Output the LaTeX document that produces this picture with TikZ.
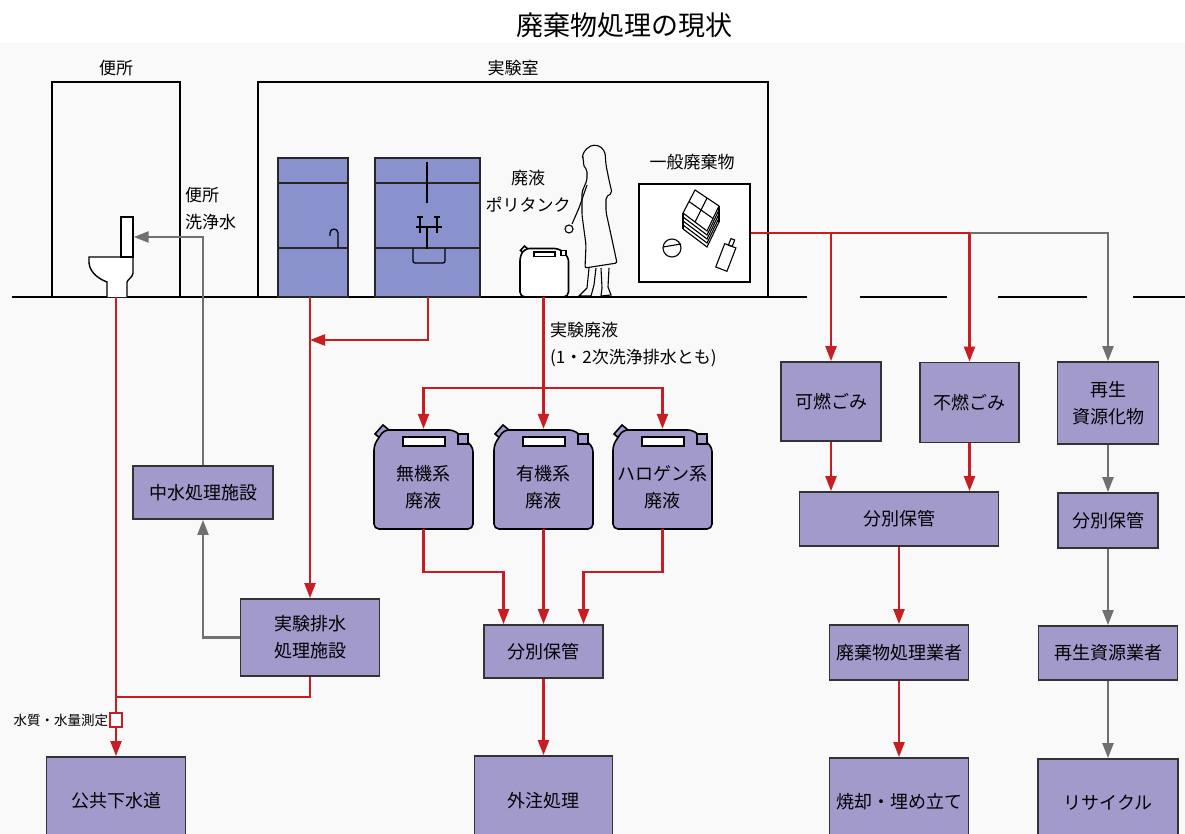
\documentclass[tikz,border=0pt]{standalone}
\usepackage{fontspec}
\setmainfont{Noto Sans CJK JP}
\usetikzlibrary{arrows.meta}

\definecolor{paper}{RGB}{249,249,249}
\definecolor{sinkfill}{RGB}{138,146,206}
\definecolor{boxfill}{RGB}{163,154,204}
\definecolor{flowred}{RGB}{200,30,35}
\definecolor{flowgray}{RGB}{112,112,112}

\begin{document}
\begin{tikzpicture}[x=1pt,y=-1pt,
  wall/.style={line width=2.4pt},
  sink/.style={draw=black!85,line width=1.6pt,fill=sinkfill},
  lbl/.style={align=center,inner sep=0pt,font=\fontsize{17}{27}\selectfont},
  box/.style={draw=black!80,line width=1.8pt,fill=boxfill,align=center,inner sep=0pt,font=\fontsize{18}{27}\selectfont},
  wh/.style 2 args={minimum width=#1pt,minimum height=#2pt},
  tank/.style={wh={99}{100},inner sep=0pt},
  tanktext/.style={align=center,font=\fontsize{18}{27}\selectfont,yshift=-8pt},
  pipe/.style={draw=flowred,line width=2.3pt},
  flow/.style={pipe,-{Triangle[width=11pt,length=15pt]}},
  backflow/.style={draw=flowgray,line width=2.3pt,-{Triangle[width=11pt,length=15pt]}},
  pics/can/.style={code={
    \draw[line width=1.6pt,fill=#1] (1,5) -- (9,-4) -- (15,1) -- (7,10) -- cycle;
    \draw[line width=1.6pt,fill=#1,rounded corners=5pt] (0,16) -- (0,100) -- (99,100) -- (99,18) -- (80,1) -- (10,1) -- cycle;
    \draw[line width=1.6pt,fill=#1] (84,5) rectangle (94,15);
    \draw[line width=1.6pt,fill=white] (29,8) rectangle (71,17);
  }}]
\useasboundingbox (0,0) rectangle (1185,834);
\clip (0,0) rectangle (1185,834);
\fill[paper] (0,43) rectangle (1185,834);
\node[font=\fontsize{27}{30}\selectfont] (title) at (624,25) {廃棄物処理の現状};

% rooms and floor
\draw[wall] (52,297) |- (180,82) -- (180,297);
\draw[wall] (258,297) |- (768,82) -- (768,297);
\draw[wall] (12,297) -- (807,297) (860,297) -- (947,297) (998,297) -- (1087,297) (1133,297) -- (1185,297);
\node[lbl] (wclabel) at (116,68) {便所};
\node[lbl] (lablabel) at (513,68) {実験室};

% toilet
\draw[line width=1.4pt,fill=white] (107,297) -- (107,282) .. controls (96,278) and (89,270) .. (89,262) -- (89,257) -- (133,257) -- (133,273) .. controls (133,277) and (128,279) .. (127,282) -- (127,297);
\node[draw,line width=1.4pt,fill=white,wh={12}{40},inner sep=0pt] (wctank) at (127,237) {};
\node[lbl,align=left,anchor=north west] (flushlabel) at (185,187) {便所\\洗浄水};

% sinks
\draw[sink] (278,158) rectangle (348,297) (278,183) -- (348,183) (278,248) -- (348,248);
\draw[line width=1.3pt] (338,248) -- (338,233) arc[start angle=0,end angle=180,radius=4pt] -- (330,236);
\draw[sink] (375,158) rectangle (480,297) (375,183) -- (480,183) (375,248) -- (480,248);
\draw[line width=1.6pt] (427,162) -- (427,203);
\draw[line width=1.3pt] (417,217) -- (423,217) (434,217) -- (440,217) (420,217) -- (420,233) (437,217) -- (437,233) (416,227) -- (442,227) (427,227) -- (427,249);
\draw[line width=1.3pt,rounded corners=2pt] (413,249) -- (413,263) -- (445,263) -- (445,249);

% polytank and person
\pic[scale=.49] at (520,248) {can=white};
\node[lbl] (polylabel) at (528,191) {廃液\\ポリタンク};
\draw[line width=1.1pt,rounded corners=2pt] (587,170) -- (583,165) -- (584,160) -- (582,157) -- (585,150) -- (592,145) -- (600,146) -- (605,152) -- (606,165) -- (609,180) -- (612,193) -- (606,197) -- (606,212) -- (611,235) -- (617,263) -- (585,268) -- (586,245) -- (582,215) -- (582,192) -- (587,180) -- cycle;
\draw[line width=1.1pt,rounded corners=2pt] (587,185) -- (579,208) -- (572,224);
\draw[line width=1.1pt] (569,229) circle[radius=4pt];
\draw[line width=1.1pt] (589,268) -- (587,288) -- (579,296) -- (591,296) -- (594,285) -- (596,268);
\draw[line width=1.1pt] (601,268) -- (602,288) -- (601,296) -- (611,295) -- (608,287) -- (609,268);

% general waste
\node[lbl] (gwlabel) at (692,162) {一般廃棄物};
\node[draw,line width=2.2pt,fill=white,wh={111}{98}] (gbox) at (694.5,233) {};
\draw[line width=1.1pt,fill=white] (683,213) -- (695,190) -- (719,206) -- (707,231) -- cycle;
\draw[line width=1.1pt] (689,201.5) -- (713,218.5) (707,198) -- (695,222);
\foreach \d in {4,8,12,16}
  \draw[line width=1.1pt] (683,213+\d) -- (707,231+\d) -- (719,206+\d);
\draw[line width=1.1pt] (683,213) -- (683,229) (719,206) -- (719,222);
\draw[line width=1.1pt] (672,248) circle[radius=9pt] (663,247) -- (681,244);
\begin{scope}[rotate around={-21:(726,257)},line width=1.1pt]
  \draw (720,245) rectangle (732,270);
  \draw (724,238) rectangle (728,245);
\end{scope}

% treatment boxes
\node[box,wh={139}{88}] (sewer) at (116,801) {公共下水道};
\node[box,wh={140}{53}] (greywater) at (203,492.5) {中水処理施設};
\node[box,wh={139}{77}] (labdrain) at (310,637.5) {実験排水\\処理施設};
\pic at (374,429) {can=boxfill};
\pic at (494,429) {can=boxfill};
\pic at (613,429) {can=boxfill};
\node[tank,label={[tanktext]center:{無機系\\廃液}}] (inorg) at (423.5,479) {};
\node[tank,label={[tanktext]center:{有機系\\廃液}}] (orgc) at (543.5,479) {};
\node[tank,label={[tanktext]center:{ハロゲン系\\廃液}}] (halo) at (662.5,479) {};
\node[box,wh={119}{53}] (sortA) at (543.5,651.5) {分別保管};
\node[box,wh={138}{90}] (outsource) at (543.5,801) {外注処理};
\node[box,wh={100}{79}] (burnable) at (831,401.5) {可燃ごみ};
\node[box,wh={99}{80}] (nonburn) at (969.5,402.5) {不燃ごみ};
\node[box,wh={101}{82}] (recyc) at (1108,403) {再生\\資源化物};
\node[box,wh={199}{54}] (sortB) at (899,519) {分別保管};
\node[box,wh={100}{55}] (sortC) at (1108,520.5) {分別保管};
\node[box,wh={139}{55}] (contractor) at (899,652.5) {廃棄物処理業者};
\node[box,wh={139}{54}] (recycler) at (1108,653) {再生資源業者};
\node[box,wh={139}{88}] (landfill) at (899,802) {焼却・埋め立て};
\node[box,wh={140}{88}] (recycle) at (1108,803) {リサイクル};

% pipes
\coordinate (wcdrain) at (116,297);
\coordinate (sinkAdrain) at (310,297);
\coordinate (sinkBdrain) at (428,297);
\coordinate (tee) at (310,340);
\coordinate (polydrain) at (543.5,297);
\coordinate (split) at (543.5,388);
\coordinate (join) at (116,697);
\node[draw=flowred,line width=1.6pt,fill=white,wh={12}{14},inner sep=0pt] (meter) at (116,720) {};
\node[anchor=east,inner sep=1pt,font=\fontsize{13.5}{14}\selectfont] (meterlabel) at (meter.west) {水質・水量測定};

\draw[pipe] (wcdrain) -- (meter);
\draw[flow] (meter) -- (sewer);
\draw[flow] (sinkAdrain) -- (labdrain);
\draw[flow] (sinkBdrain) |- (tee);
\draw[pipe] (labdrain) |- (join);
\draw[backflow] (labdrain) -| (greywater);
\draw[backflow] (greywater) |- (wctank);
\node[lbl,align=left,anchor=north west] (effluent) at (550,322) {実験廃液\\(1・2次洗浄排水とも)};
\draw[pipe] (polydrain) -- (split);
\draw[flow] (split) -- (orgc);
\draw[flow] (split) -| (inorg);
\draw[flow] (split) -| (halo);
\draw[flow] (inorg.south) -- ++(0,43) -| ([xshift=-40pt]sortA.north);
\draw[flow] (orgc) -- (sortA);
\draw[flow] (halo.south) -- ++(0,43) -| ([xshift=40pt]sortA.north);
\draw[flow] (sortA) -- (outsource);
\draw[flow] (gbox.east) -| (nonburn);
\draw[flow] (gbox.east -| burnable) -- (burnable);
\draw[backflow] (gbox.east -| nonburn) -| (recyc);
\draw[flow] (burnable) -- (burnable |- sortB.north);
\draw[flow] (nonburn) -- (nonburn |- sortB.north);
\draw[flow] (sortB) -- (contractor);
\draw[flow] (contractor) -- (landfill);
\draw[backflow] (recyc) -- (sortC);
\draw[backflow] (sortC) -- (recycler);
\draw[backflow] (recycler) -- (recycle);
\end{tikzpicture}
\end{document}
